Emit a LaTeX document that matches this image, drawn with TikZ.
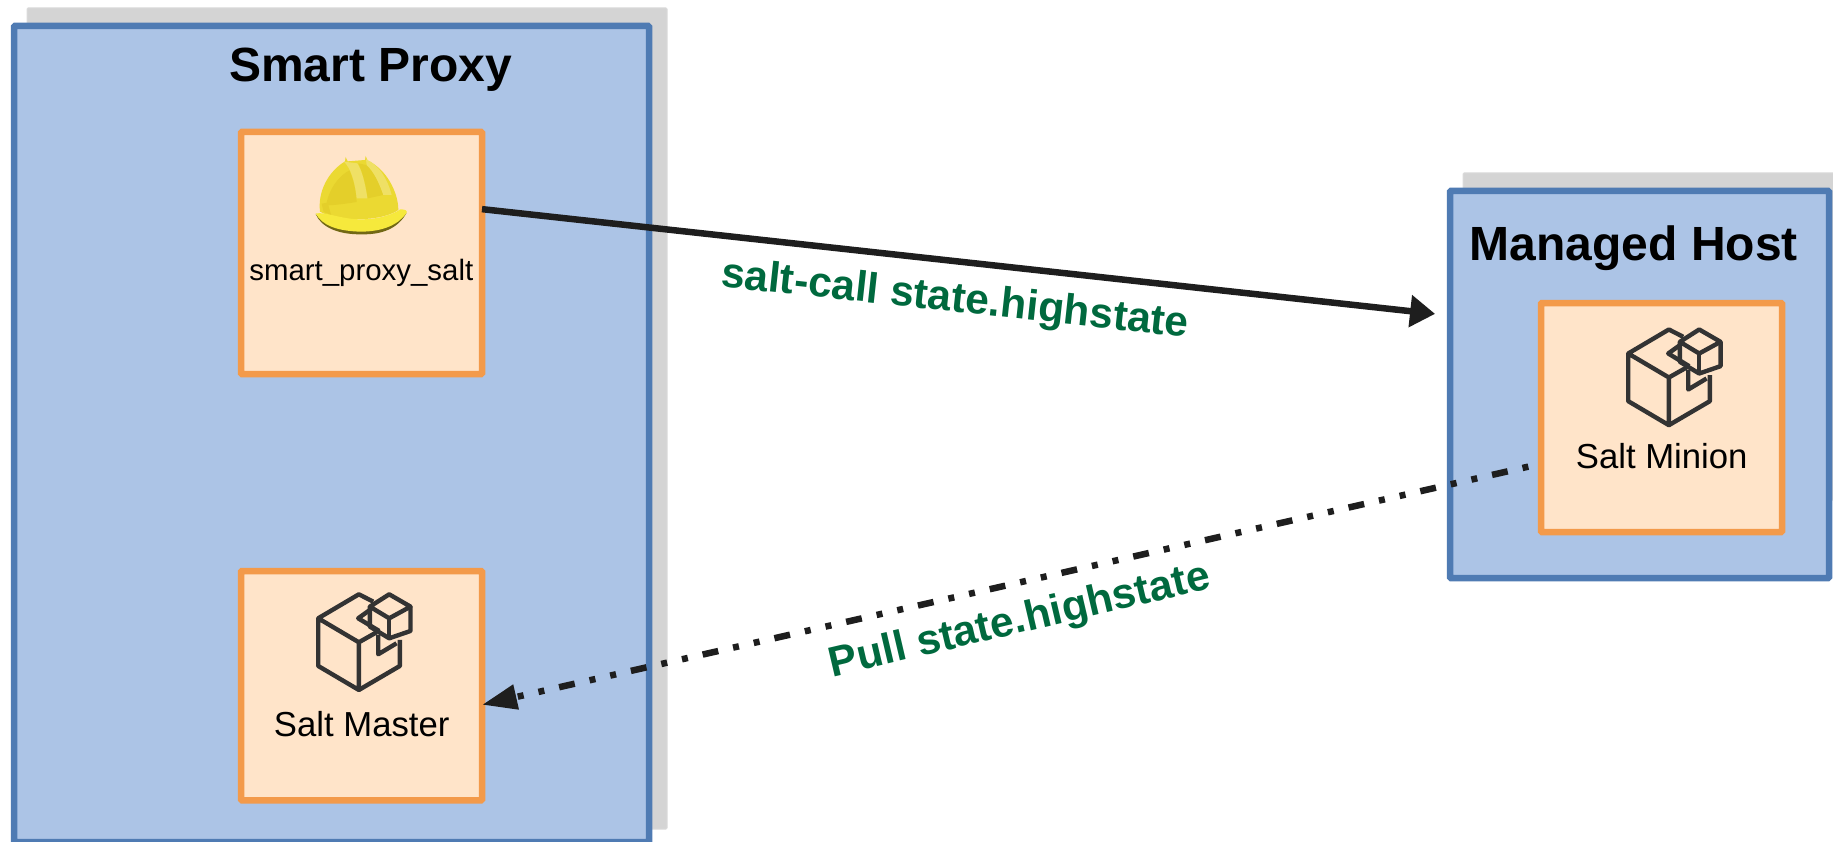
\documentclass[tikz,border=0pt]{standalone}
\usepackage{fontspec}
\setmainfont{Liberation Sans}
\usetikzlibrary{arrows.meta}
\definecolor{hostblue}{HTML}{ACC4E6}
\definecolor{hostline}{HTML}{4F7BB3}
\definecolor{boxorange}{HTML}{FFE4C9}
\definecolor{boxline}{HTML}{F39A4A}
\definecolor{labelgreen}{HTML}{00693E}
\definecolor{wirecol}{HTML}{1E1E1E}
\definecolor{hatdome}{HTML}{EBD932}
\definecolor{hatdark}{HTML}{E4CF2A}
\definecolor{hatrib}{HTML}{EFE065}
\definecolor{hatbrim}{HTML}{F6E93C}
\tikzset{
    hostbox/.style={draw=hostline, fill=hostblue, line width=6.5pt, rounded corners=1pt, outer sep=0pt, inner sep=0pt},
    hostshadow/.style={fill=black!17, draw=black!14, line width=1pt, rounded corners=1pt},
    compbox/.style={draw=boxline, fill=boxorange, line width=6.5pt, rounded corners=1pt, outer sep=0pt, inner sep=0pt, minimum width=241pt},
    hosttitle/.style={font=\fontsize{48}{48}\selectfont\bfseries, inner sep=0pt, anchor=base},
    complabel/.style={font=\fontsize{34.7}{35}\selectfont, inner sep=0pt, anchor=base},
    wirelabel/.style={font=\fontsize{42.5}{43}\selectfont\bfseries, text=labelgreen, inner sep=0pt},
    wire/.style={draw=wirecol, line width=6.5pt},
    boxicon/.style={draw=black!80, line width=4.4pt, line join=round},
    pics/saltbox/.style={code={
        \begin{scope}[scale=1/3]
            \draw[boxicon] (27,-122) -- (-16,-144) -- (-138,-72) -- (-16,0) -- (-16,143) -- (-138,71) -- (-138,-72);
            \draw[boxicon] (-16,0) -- (37,-30);
            \draw[boxicon] (-16,143) -- (107,71) -- (107,-7);
            \draw[boxicon] (42,-22) -- (42,36) -- (97,3);
            \draw[boxicon] (45,-34) -- (-18,-72) -- (17,-97);
            \draw[boxicon] (75,-144) -- (17,-107) -- (75,-72) -- (139,-107) -- cycle;
            \draw[boxicon] (17,-107) -- (17,-47) -- (75,-12) -- (139,-34) -- (139,-107);
            \draw[boxicon] (75,-72) -- (75,-12);
        \end{scope}
    }},
    pics/hardhat/.style={code={
        \begin{scope}[scale=1/3]
            % shadow below the brim
            \fill[black!50!hatdark] (-136,6) .. controls (-90,62) and (60,68) .. (137,2) .. controls (110,52) and (60,68) .. (2,67) .. controls (-70,68) and (-120,45) .. (-136,6) -- cycle;
            % dome and bumps
            \fill[hatdome] (-48,-152) -- (-46,-165) -- (-40,-152) -- (12,-156) -- (14,-168) -- (20,-154) .. controls (75,-130) and (112,-60) .. (112,-6) .. controls (60,30) and (-70,30) .. (-123,-1) .. controls (-130,-60) and (-100,-120) .. (-48,-152) -- cycle;
            \fill[hatdark] (-105,-20) .. controls (-95,-70) and (-70,-105) .. (-35,-125) .. controls (-20,-90) and (-15,-60) .. (-13,-30) .. controls (-45,-25) and (-80,-20) .. (-105,-20) -- cycle;
            \fill[hatdark] (-8,-146) -- (15,-141) .. controls (40,-120) and (55,-85) .. (67,-51) -- (20,-41) .. controls (15,-80) and (5,-120) .. (-8,-146) -- cycle;
            % ribs
            \fill[hatrib] (-51,-151) .. controls (-30,-130) and (-18,-90) .. (-13,-41) -- (19,-41) .. controls (12,-90) and (2,-125) .. (-11,-146) -- cycle;
            \fill[hatrib] (15,-158) .. controls (50,-145) and (80,-100) .. (92,-51) -- (67,-51) .. controls (55,-85) and (40,-120) .. (17,-141) -- cycle;
            % brim
            \fill[hatbrim] (-136,4) .. controls (-100,0) and (-60,22) .. (0,22) .. controls (60,22) and (100,4) .. (118,-8) .. controls (132,-8) and (140,-4) .. (137,2) .. controls (110,42) and (60,58) .. (2,59) .. controls (-70,58) and (-118,40) .. (-136,4) -- cycle;
            \fill[hatdark] (-118,-25) -- (-100,-28) -- (-90,8) -- (-112,0) -- cycle;
        \end{scope}
    }},
}
\begin{document}
\begin{tikzpicture}[x=1pt, y=-1pt]
    \useasboundingbox (0,0) rectangle (1833,842);
    % smart proxy
    \draw[hostshadow] (27,8) rectangle (667,829);
    \node[hostbox, minimum width=635pt, minimum height=816pt] (proxy) at (331.5,434) {};
    \node[hosttitle] (proxytitle) at (370.5,82) {Smart Proxy};

    \node[compbox, minimum height=242pt] (helper) at (361.5,253) {};
    \pic at (361,212) {hardhat};
    \node[complabel, font=\fontsize{29.4}{30}\selectfont] (helpertext) at (361.3,280) {smart\_proxy\_salt};

    \node[compbox, minimum height=229.3pt] (master) at (361.5,685.7) {};
    \pic at (364.2,642.3) {saltbox};
    \node[complabel] (mastertext) at (361.7,736) {Salt Master};

    % managed host
    \fill[hostshadow] (1463,173) rectangle (1840,500);
    \node[hostbox, minimum width=379pt, minimum height=387pt] (mhost) at (1639.5,384.5) {};
    \node[hosttitle] (mhosttitle) at (1633.7,261) {Managed Host};

    \node[compbox, minimum height=229pt] (minion) at (1661.5,417.5) {};
    \pic at (1674.2,377.5) {saltbox};
    \node[complabel] (miniontext) at (1661.7,468.3) {Salt Minion};

    % connectors
    \draw[wire, -{Triangle[length=25pt,width=31pt]}, shorten >=15pt] (helper.20) -- (mhost.160);
    \draw[wire, -{Triangle[length=35pt,width=24pt]}, shorten <=13pt, dash pattern=on 6pt off 15.2pt on 16pt off 15.2pt on 6pt off 15.2pt] (minion.201.5) -- (master.-9.5);
    \node[wirelabel, rotate=-6.2] (calllabel) at (955,301) {salt-call state.highstate};
    \node[wirelabel, rotate=13.2] (pulllabel) at (1020,622) {Pull state.highstate};
\end{tikzpicture}
\end{document}
